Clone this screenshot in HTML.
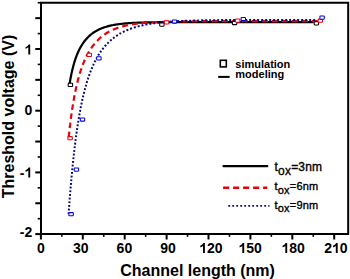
<!DOCTYPE html>
<html><head><meta charset="utf-8"><style>
html,body{margin:0;padding:0;background:#fff;}
svg{display:block;}
</style></head><body>
<svg width="350" height="279" viewBox="0 0 350 279">
<rect width="350" height="279" fill="#fff"/>
<g stroke="#000" stroke-width="2" fill="none" stroke-linecap="butt">
<path d="M41,2.7 H348.2 V234.1 H41 Z"/>
<path d="M35.3,234.10 H41"/>
<path d="M37.7,218.68 H41" stroke-width="1.6"/>
<path d="M35.3,203.25 H41"/>
<path d="M37.7,187.83 H41" stroke-width="1.6"/>
<path d="M35.3,172.40 H41"/>
<path d="M37.7,156.98 H41" stroke-width="1.6"/>
<path d="M35.3,141.55 H41"/>
<path d="M37.7,126.12 H41" stroke-width="1.6"/>
<path d="M35.3,110.70 H41"/>
<path d="M37.7,95.28 H41" stroke-width="1.6"/>
<path d="M35.3,79.85 H41"/>
<path d="M37.7,64.42 H41" stroke-width="1.6"/>
<path d="M35.3,49.00 H41"/>
<path d="M37.7,33.58 H41" stroke-width="1.6"/>
<path d="M35.3,18.15 H41"/>
<path d="M37.7,2.72 H41" stroke-width="1.6"/>
<path d="M40.90,234.1 V239.5"/>
<path d="M61.85,234.1 V236.8" stroke-width="1.6"/>
<path d="M82.80,234.1 V239.5"/>
<path d="M103.75,234.1 V236.8" stroke-width="1.6"/>
<path d="M124.70,234.1 V239.5"/>
<path d="M145.65,234.1 V236.8" stroke-width="1.6"/>
<path d="M166.60,234.1 V239.5"/>
<path d="M187.55,234.1 V236.8" stroke-width="1.6"/>
<path d="M208.50,234.1 V239.5"/>
<path d="M229.45,234.1 V236.8" stroke-width="1.6"/>
<path d="M250.41,234.1 V239.5"/>
<path d="M271.36,234.1 V236.8" stroke-width="1.6"/>
<path d="M292.31,234.1 V239.5"/>
<path d="M313.26,234.1 V236.8" stroke-width="1.6"/>
<path d="M334.21,234.1 V239.5"/>
</g>
<g font-family="Liberation Sans" font-weight="bold" font-size="14" fill="#000">
<path d="M831,0 L556,0 L556,1036 Q405,895 200,827 L155,812 L155,1061 Q270,1099 405,1204 Q540,1310 590,1466 L831,1466 Z" transform="translate(24.51,54.40) scale(0.006836,-0.006836)"/>
<text x="24.51" y="115.40">0</text>
<text x="19.85" y="177.50">-</text>
<path d="M831,0 L556,0 L556,1036 Q405,895 200,827 L155,812 L155,1061 Q270,1099 405,1204 Q540,1310 590,1466 L831,1466 Z" transform="translate(24.51,177.50) scale(0.006836,-0.006836)"/>
<text x="19.85" y="237.00">-2</text>
<text x="37.11" y="253.00">0</text>
<text x="73.01" y="253.00">30</text>
<text x="116.61" y="253.00">60</text>
<text x="160.21" y="253.00">90</text>
<path d="M831,0 L556,0 L556,1036 Q405,895 200,827 L155,812 L155,1061 Q270,1099 405,1204 Q540,1310 590,1466 L831,1466 Z" transform="translate(199.22,253.00) scale(0.006836,-0.006836)"/>
<text x="207.01" y="253.00">20</text>
<path d="M831,0 L556,0 L556,1036 Q405,895 200,827 L155,812 L155,1061 Q270,1099 405,1204 Q540,1310 590,1466 L831,1466 Z" transform="translate(238.52,253.00) scale(0.006836,-0.006836)"/>
<text x="246.31" y="253.00">50</text>
<path d="M831,0 L556,0 L556,1036 Q405,895 200,827 L155,812 L155,1061 Q270,1099 405,1204 Q540,1310 590,1466 L831,1466 Z" transform="translate(281.52,253.00) scale(0.006836,-0.006836)"/>
<text x="289.31" y="253.00">80</text>
<text x="324.22" y="253.00">2</text>
<path d="M831,0 L556,0 L556,1036 Q405,895 200,827 L155,812 L155,1061 Q270,1099 405,1204 Q540,1310 590,1466 L831,1466 Z" transform="translate(332.01,253.00) scale(0.006836,-0.006836)"/>
<text x="339.79" y="253.00">0</text>
</g>
<text x="197.6" y="275.6" text-anchor="middle" font-family="Liberation Sans" font-weight="bold" font-size="16" letter-spacing="0">Channel length (nm)</text>
<text transform="translate(14,116.5) rotate(-90)" text-anchor="middle" font-family="Liberation Sans" font-weight="bold" font-size="16">Threshold voltage (V)</text>
<path d="M69.39,84.93 L69.55,83.93 L69.72,82.94 L69.89,81.95 L70.06,80.96 L70.24,79.97 L70.42,78.98 L70.61,77.99 L70.80,77.00 L71.00,76.01 L71.20,75.02 L71.40,74.04 L71.62,73.05 L71.83,72.07 L72.06,71.09 L72.28,70.11 L72.52,69.13 L72.76,68.15 L73.01,67.18 L73.26,66.20 L73.53,65.23 L73.80,64.26 L74.08,63.29 L74.36,62.33 L74.66,61.36 L74.96,60.40 L75.28,59.45 L75.60,58.49 L75.94,57.55 L76.28,56.60 L76.64,55.66 L77.00,54.72 L77.38,53.79 L77.78,52.86 L78.18,51.94 L78.60,51.02 L79.03,50.11 L79.48,49.21 L79.94,48.32 L80.42,47.43 L80.91,46.55 L81.42,45.69 L81.95,44.83 L82.50,43.98 L83.06,43.14 L83.64,42.32 L84.23,41.51 L84.85,40.71 L85.48,39.93 L86.14,39.17 L86.81,38.42 L87.50,37.68 L88.21,36.97 L88.93,36.27 L89.68,35.59 L90.44,34.93 L91.22,34.30 L92.02,33.68 L92.83,33.08 L93.65,32.51 L94.50,31.96 L95.35,31.43 L96.22,30.92 L97.10,30.43 L97.99,29.97 L98.90,29.52 L99.81,29.10 L100.73,28.70 L101.67,28.31 L102.60,27.95 L103.55,27.60 L104.50,27.28 L105.46,26.97 L106.42,26.68 L107.39,26.40 L108.36,26.14 L109.34,25.89 L110.32,25.66 L111.30,25.44 L112.29,25.24 L113.28,25.04 L114.27,24.86 L115.26,24.69 L116.25,24.52 L117.25,24.37 L118.25,24.23 L119.24,24.10 L120.24,23.97 L121.24,23.85 L122.24,23.74 L123.24,23.63 L124.25,23.54 L125.25,23.44 L126.25,23.36 L127.26,23.27 L128.26,23.20 L129.26,23.13 L130.27,23.06 L131.27,23.00 L132.28,22.94 L133.28,22.88 L134.29,22.83 L135.29,22.78 L136.30,22.73 L137.31,22.69 L138.31,22.65 L139.32,22.61 L140.32,22.57 L141.33,22.54 L142.34,22.51 L143.34,22.48 L144.35,22.45 L145.36,22.43 L146.36,22.40 L147.37,22.38 L148.38,22.36 L149.38,22.34 L150.39,22.32 L151.40,22.30 L152.40,22.28 L153.41,22.27 L154.42,22.25 L155.42,22.24 L156.43,22.23 L157.44,22.21 L158.44,22.20 L159.45,22.19 L160.46,22.18 L161.46,22.17 L162.47,22.16 L163.48,22.16 L164.48,22.15 L165.49,22.14 L166.50,22.13 L167.51,22.13 L168.51,22.12 L169.52,22.11 L170.53,22.11 L171.53,22.10 L172.54,22.10 L173.55,22.10 L174.55,22.09 L175.56,22.09 L176.57,22.08 L177.57,22.08 L178.58,22.08 L179.59,22.07 L180.59,22.07 L181.60,22.07 L182.61,22.07 L183.61,22.06 L184.62,22.06 L185.63,22.06 L186.64,22.06 L187.64,22.06 L188.65,22.05 L189.66,22.05 L190.66,22.05 L191.67,22.05 L192.68,22.05 L193.68,22.05 L194.69,22.05 L195.70,22.05 L196.70,22.04 L197.71,22.04 L198.72,22.04 L199.72,22.04 L200.73,22.04 L201.74,22.04 L202.75,22.04 L203.75,22.04 L204.76,22.04 L205.77,22.04 L206.77,22.04 L207.78,22.04 L208.79,22.04 L209.79,22.04 L210.80,22.03 L211.81,22.03 L212.81,22.03 L213.82,22.03 L214.83,22.03 L215.83,22.03 L216.84,22.03 L217.85,22.03 L218.85,22.03 L219.86,22.03 L220.87,22.03 L221.88,22.03 L222.88,22.03 L223.89,22.03 L224.90,22.03 L225.90,22.03 L226.91,22.03 L227.92,22.03 L228.92,22.03 L229.93,22.03 L230.94,22.03 L231.94,22.03 L232.95,22.03 L233.96,22.03 L234.96,22.03 L235.97,22.03 L236.98,22.03 L237.99,22.03 L238.99,22.03 L240.00,22.03 L241.01,22.03 L242.01,22.03 L243.02,22.03 L244.03,22.03 L245.03,22.03 L246.04,22.03 L247.05,22.03 L248.05,22.03 L249.06,22.03 L250.07,22.03 L251.07,22.03 L252.08,22.03 L253.09,22.03 L254.10,22.03 L255.10,22.03 L256.11,22.03 L257.12,22.03 L258.12,22.03 L259.13,22.03 L260.14,22.03 L261.14,22.03 L262.15,22.03 L263.16,22.03 L264.16,22.03 L265.17,22.03 L266.18,22.03 L267.18,22.03 L268.19,22.03 L269.20,22.03 L270.20,22.03 L271.21,22.03 L272.22,22.03 L273.23,22.03 L274.23,22.03 L275.24,22.03 L276.25,22.03 L277.25,22.03 L278.26,22.03 L279.27,22.03 L280.27,22.03 L281.28,22.03 L282.29,22.03 L283.29,22.03 L284.30,22.03 L285.31,22.03 L286.31,22.03 L287.32,22.03 L288.33,22.03 L289.34,22.03 L290.34,22.03 L291.35,22.03 L292.36,22.03 L293.36,22.03 L294.37,22.03 L295.38,22.03 L296.38,22.03 L297.39,22.03 L298.40,22.03 L299.40,22.03 L300.41,22.03 L301.42,22.03 L302.42,22.03 L303.43,22.03 L304.44,22.03 L305.45,22.03 L306.45,22.03 L307.46,22.03 L308.47,22.03 L309.47,22.03 L310.48,22.03 L311.49,22.03 L312.49,22.03 L313.50,22.03" fill="none" stroke="#000" stroke-width="2.2" stroke-linejoin="round"/>
<path d="M68.72,137.24 L68.76,136.78 L68.81,136.32 L68.86,135.86 L68.91,135.41 L68.96,134.95 L69.00,134.49 L69.05,134.03 L69.10,133.58 L69.15,133.12 L69.20,132.66 L69.25,132.20 L69.30,131.74 M69.71,128.08 L69.77,127.63 L69.82,127.17 L69.87,126.71 L69.93,126.25 L69.98,125.80 L70.04,125.34 L70.09,124.88 L70.15,124.43 L70.20,123.97 L70.26,123.51 L70.31,123.05 L70.37,122.60 M70.84,118.94 L70.90,118.49 L70.96,118.03 L71.02,117.57 L71.08,117.12 L71.14,116.66 L71.20,116.20 L71.26,115.75 L71.33,115.29 L71.39,114.83 L71.45,114.38 L71.52,113.92 L71.58,113.47 M72.11,109.82 L72.18,109.36 L72.25,108.91 L72.32,108.45 L72.39,108.00 L72.46,107.54 L72.53,107.08 L72.60,106.63 L72.67,106.17 L72.74,105.72 L72.82,105.26 L72.89,104.81 L72.96,104.35 M73.58,100.72 L73.65,100.26 L73.73,99.81 L73.81,99.35 L73.90,98.90 L73.98,98.45 L74.06,97.99 L74.14,97.54 L74.23,97.09 L74.31,96.63 L74.40,96.18 L74.48,95.73 L74.57,95.27 M75.28,91.65 L75.38,91.20 L75.47,90.75 L75.57,90.30 L75.66,89.85 L75.76,89.39 L75.85,88.94 L75.95,88.49 L76.05,88.04 L76.15,87.59 L76.25,87.14 L76.35,86.69 L76.45,86.24 M77.31,82.64 L77.42,82.19 L77.53,81.75 L77.64,81.30 L77.76,80.85 L77.87,80.40 L77.99,79.96 L78.11,79.51 L78.22,79.06 L78.34,78.61 L78.46,78.17 L78.59,77.72 L78.71,77.28 M79.74,73.72 L79.88,73.28 L80.01,72.84 L80.15,72.39 L80.29,71.95 L80.43,71.51 L80.57,71.07 L80.72,70.63 L80.86,70.19 L81.01,69.75 L81.16,69.31 L81.30,68.87 L81.46,68.43 M82.73,64.94 L82.89,64.51 L83.06,64.08 L83.23,63.64 L83.41,63.21 L83.58,62.78 L83.76,62.35 L83.93,61.92 L84.11,61.49 L84.30,61.06 L84.48,60.64 L84.67,60.21 L84.86,59.78 M86.45,56.41 L86.66,55.99 L86.87,55.57 L87.08,55.16 L87.30,54.74 L87.52,54.33 L87.74,53.92 L87.97,53.51 L88.19,53.10 L88.43,52.69 L88.66,52.28 L88.89,51.88 L89.13,51.47 M91.14,48.29 L91.41,47.90 L91.68,47.51 L91.95,47.13 L92.22,46.74 L92.50,46.36 L92.78,45.98 L93.07,45.60 L93.35,45.22 L93.64,44.85 L93.94,44.48 L94.23,44.11 L94.54,43.74 M97.06,40.89 L97.40,40.55 L97.73,40.20 L98.07,39.87 L98.41,39.53 L98.76,39.20 L99.11,38.87 L99.46,38.54 L99.82,38.22 L100.18,37.90 L100.54,37.58 L100.91,37.27 L101.28,36.96 M104.35,34.61 L104.75,34.34 L105.15,34.06 L105.56,33.79 L105.97,33.53 L106.38,33.27 L106.79,33.01 L107.21,32.75 L107.63,32.50 L108.05,32.26 L108.48,32.02 L108.91,31.78 L109.34,31.54 M112.86,29.81 L113.31,29.61 L113.77,29.42 L114.22,29.22 L114.68,29.04 L115.14,28.85 L115.59,28.67 L116.06,28.49 L116.52,28.32 L116.98,28.15 L117.45,27.98 L117.92,27.82 L118.39,27.66 M122.18,26.50 L122.66,26.37 L123.14,26.24 L123.62,26.12 L124.11,26.00 L124.59,25.88 L125.07,25.76 L125.56,25.65 L126.04,25.54 L126.53,25.43 L127.01,25.32 L127.50,25.22 L127.99,25.12 M131.91,24.39 L132.40,24.31 L132.89,24.23 L133.39,24.15 L133.88,24.08 L134.37,24.00 L134.87,23.93 L135.36,23.86 L135.86,23.79 L136.35,23.72 L136.85,23.66 L137.34,23.60 L137.84,23.53 M141.81,23.09 L142.30,23.04 L142.80,22.99 L143.30,22.94 L143.80,22.90 L144.29,22.85 L144.79,22.81 L145.29,22.77 L145.79,22.73 L146.29,22.69 L146.78,22.65 L147.28,22.61 L147.78,22.57 M151.77,22.30 L152.27,22.27 L152.77,22.24 L153.27,22.22 L153.77,22.19 L154.27,22.16 L154.76,22.13 L155.26,22.11 L155.76,22.08 L156.26,22.06 L156.76,22.04 L157.26,22.01 L157.76,21.99 M161.76,21.83 L162.26,21.81 L162.76,21.79 L163.26,21.78 L163.76,21.76 L164.25,21.74 L164.75,21.73 L165.25,21.71 L165.75,21.70 L166.25,21.68 L166.75,21.67 L167.25,21.66 L167.75,21.64 M171.75,21.55 L172.25,21.53 L172.75,21.52 L173.25,21.51 L173.75,21.50 L174.25,21.49 L174.75,21.48 L175.25,21.48 L175.75,21.47 L176.25,21.46 L176.75,21.45 L177.25,21.44 L177.75,21.43 M181.75,21.37 L182.25,21.37 L182.75,21.36 L183.25,21.36 L183.75,21.35 L184.25,21.34 L184.75,21.34 L185.25,21.33 L185.75,21.33 L186.25,21.32 L186.75,21.32 L187.25,21.31 L187.75,21.31 M191.75,21.27 L192.25,21.27 L192.75,21.27 L193.25,21.26 L193.75,21.26 L194.25,21.25 L194.75,21.25 L195.25,21.25 L195.75,21.24 L196.25,21.24 L196.75,21.24 L197.25,21.24 L197.75,21.23 M201.75,21.21 L202.25,21.21 L202.75,21.21 L203.25,21.20 L203.75,21.20 L204.25,21.20 L204.75,21.20 L205.25,21.20 L205.75,21.19 L206.25,21.19 L206.75,21.19 L207.25,21.19 L207.75,21.19 M211.75,21.18 L212.25,21.17 L212.75,21.17 L213.25,21.17 L213.75,21.17 L214.25,21.17 L214.75,21.17 L215.25,21.17 L215.75,21.16 L216.25,21.16 L216.75,21.16 L217.25,21.16 L217.75,21.16 M221.75,21.15 L222.25,21.15 L222.75,21.15 L223.25,21.15 L223.75,21.15 L224.25,21.15 L224.75,21.15 L225.25,21.15 L225.75,21.15 L226.25,21.15 L226.75,21.15 L227.25,21.15 L227.75,21.14 M231.75,21.14 L232.25,21.14 L232.75,21.14 L233.25,21.14 L233.75,21.14 L234.25,21.14 L234.75,21.14 L235.25,21.14 L235.75,21.14 L236.25,21.14 L236.75,21.14 L237.25,21.14 L237.75,21.13 M241.75,21.13 L242.25,21.13 L242.75,21.13 L243.25,21.13 L243.75,21.13 L244.25,21.13 L244.75,21.13 L245.25,21.13 L245.75,21.13 L246.25,21.13 L246.75,21.13 L247.25,21.13 L247.75,21.13 M251.75,21.13 L252.25,21.13 L252.75,21.13 L253.25,21.13 L253.75,21.13 L254.25,21.13 L254.75,21.13 L255.25,21.13 L255.75,21.13 L256.25,21.13 L256.75,21.13 L257.25,21.13 L257.75,21.13 M261.75,21.12 L262.25,21.12 L262.75,21.12 L263.25,21.12 L263.75,21.12 L264.25,21.12 L264.75,21.12 L265.25,21.12 L265.75,21.12 L266.25,21.12 L266.75,21.12 L267.25,21.12 L267.75,21.12 M271.75,21.12 L272.25,21.12 L272.75,21.12 L273.25,21.12 L273.75,21.12 L274.25,21.12 L274.75,21.12 L275.25,21.12 L275.75,21.12 L276.25,21.12 L276.75,21.12 L277.25,21.12 L277.75,21.12 M281.75,21.12 L282.25,21.12 L282.75,21.12 L283.25,21.12 L283.75,21.12 L284.25,21.12 L284.75,21.12 L285.25,21.12 L285.75,21.12 L286.25,21.12 L286.75,21.12 L287.25,21.12 L287.75,21.12 M291.75,21.12 L292.25,21.12 L292.75,21.12 L293.25,21.12 L293.75,21.12 L294.25,21.12 L294.75,21.12 L295.25,21.12 L295.75,21.12 L296.25,21.12 L296.75,21.12 L297.25,21.12 L297.75,21.12 M301.75,21.12 L302.25,21.12 L302.75,21.12 L303.25,21.12 L303.75,21.12 L304.25,21.12 L304.75,21.12 L305.25,21.12 L305.75,21.12 L306.25,21.12 L306.75,21.12 L307.25,21.12 L307.75,21.12 M311.75,21.12 L312.25,21.12 L312.75,21.12 L313.25,21.12 L313.75,21.12 L314.25,21.12 L314.75,21.12 L315.25,21.12 L315.75,21.12 L316.25,21.12 L316.75,21.12 L317.25,21.12 L317.75,21.12" fill="none" stroke="#e8000b" stroke-width="2.2" stroke-linecap="butt"/>
<path d="M68.59,214.19 L68.62,213.73 L68.66,213.27 L68.69,212.81 L68.72,212.35 M68.85,210.51 L68.89,210.05 L68.92,209.60 L68.95,209.14 L68.99,208.68 M69.12,206.84 L69.15,206.38 L69.19,205.92 L69.22,205.47 L69.26,205.01 M69.39,203.17 L69.43,202.71 L69.46,202.25 L69.50,201.79 L69.53,201.34 M69.67,199.50 L69.71,199.04 L69.74,198.58 L69.78,198.12 L69.82,197.66 M69.96,195.83 L70.00,195.37 L70.03,194.91 L70.07,194.45 L70.11,193.99 M70.26,192.16 L70.29,191.70 L70.33,191.24 L70.37,190.78 L70.41,190.32 M70.56,188.49 L70.60,188.03 L70.64,187.57 L70.68,187.11 L70.71,186.66 M70.87,184.82 L70.91,184.36 L70.95,183.90 L70.99,183.45 L71.03,182.99 M71.19,181.15 L71.23,180.69 L71.27,180.24 L71.31,179.78 L71.36,179.32 M71.52,177.49 L71.56,177.03 L71.61,176.57 L71.65,176.11 L71.69,175.65 M71.86,173.82 L71.91,173.36 L71.95,172.90 L71.99,172.44 L72.04,171.99 M72.21,170.15 L72.26,169.69 L72.30,169.24 L72.35,168.78 L72.39,168.32 M72.57,166.49 L72.62,166.03 L72.67,165.57 L72.71,165.11 L72.76,164.66 M72.95,162.82 L73.00,162.37 L73.04,161.91 L73.09,161.45 L73.14,160.99 M73.33,159.16 L73.38,158.70 L73.43,158.25 L73.48,157.79 L73.53,157.33 M73.73,155.50 L73.78,155.04 L73.83,154.58 L73.89,154.13 L73.94,153.67 M74.15,151.84 L74.20,151.38 L74.25,150.92 L74.30,150.47 L74.36,150.01 M74.57,148.18 L74.63,147.72 L74.68,147.27 L74.74,146.81 L74.79,146.35 M75.02,144.52 L75.07,144.07 L75.13,143.61 L75.19,143.15 L75.24,142.70 M75.48,140.87 L75.54,140.41 L75.60,139.95 L75.65,139.50 L75.71,139.04 M75.96,137.21 L76.02,136.76 L76.08,136.30 L76.14,135.84 L76.20,135.39 M76.45,133.56 L76.52,133.11 L76.58,132.65 L76.65,132.19 L76.71,131.74 M76.97,129.91 L77.04,129.46 L77.11,129.00 L77.17,128.55 L77.24,128.09 M77.51,126.27 L77.58,125.81 L77.65,125.36 L77.72,124.90 L77.79,124.45 M78.08,122.62 L78.15,122.17 L78.23,121.71 L78.30,121.26 L78.37,120.80 M78.67,118.99 L78.75,118.53 L78.82,118.08 L78.90,117.62 L78.98,117.17 M79.29,115.35 L79.37,114.90 L79.45,114.44 L79.53,113.99 L79.61,113.53 M79.94,111.72 L80.03,111.27 L80.11,110.81 L80.20,110.36 L80.28,109.91 M80.63,108.09 L80.72,107.64 L80.80,107.19 L80.89,106.73 L80.98,106.28 M81.35,104.47 L81.44,104.02 L81.53,103.57 L81.63,103.12 L81.72,102.67 M82.11,100.86 L82.21,100.41 L82.31,99.96 L82.40,99.51 L82.50,99.06 M82.91,97.26 L83.02,96.81 L83.12,96.36 L83.23,95.91 L83.33,95.46 M83.76,93.66 L83.87,93.21 L83.98,92.76 L84.10,92.31 L84.21,91.87 M84.67,90.08 L84.79,89.63 L84.90,89.18 L85.02,88.73 L85.14,88.29 M85.63,86.50 L85.75,86.06 L85.88,85.61 L86.01,85.17 L86.13,84.72 M86.66,82.95 L86.79,82.50 L86.92,82.06 L87.06,81.62 L87.20,81.17 M87.75,79.41 L87.90,78.97 L88.04,78.53 L88.18,78.09 L88.33,77.65 M88.93,75.89 L89.08,75.45 L89.24,75.01 L89.39,74.58 L89.55,74.14 M90.19,72.40 L90.36,71.96 L90.52,71.53 L90.69,71.10 L90.86,70.66 M91.55,68.94 L91.73,68.51 L91.91,68.08 L92.09,67.65 L92.27,67.22 M93.02,65.51 L93.21,65.09 L93.41,64.67 L93.60,64.24 L93.80,63.82 M94.61,62.14 L94.82,61.72 L95.03,61.30 L95.24,60.88 L95.45,60.47 M96.33,58.82 L96.55,58.40 L96.78,57.99 L97.01,57.59 L97.24,57.18 M98.19,55.56 L98.44,55.16 L98.68,54.76 L98.93,54.36 L99.19,53.96 M100.22,52.39 L100.48,52.00 L100.75,51.61 L101.02,51.22 L101.29,50.84 M102.41,49.31 L102.70,48.93 L102.99,48.56 L103.28,48.19 L103.58,47.81 M104.79,46.35 L105.10,45.99 L105.41,45.63 L105.73,45.28 L106.05,44.92 M107.35,43.53 L107.69,43.19 L108.02,42.85 L108.37,42.51 L108.71,42.17 M110.11,40.86 L110.47,40.54 L110.83,40.22 L111.19,39.91 L111.56,39.59 M113.05,38.37 L113.44,38.07 L113.82,37.78 L114.21,37.49 L114.60,37.20 M116.18,36.08 L116.58,35.80 L116.99,35.53 L117.39,35.27 L117.80,35.00 M119.47,33.98 L119.89,33.74 L120.31,33.49 L120.74,33.25 L121.17,33.01 M122.90,32.10 L123.34,31.88 L123.78,31.66 L124.22,31.44 L124.67,31.23 M126.46,30.42 L126.91,30.22 L127.37,30.03 L127.82,29.84 L128.28,29.65 M130.12,28.94 L130.59,28.77 L131.05,28.60 L131.52,28.43 L131.99,28.27 M133.87,27.64 L134.34,27.49 L134.81,27.35 L135.29,27.20 L135.76,27.06 M137.67,26.52 L138.15,26.39 L138.64,26.26 L139.12,26.14 L139.60,26.02 M141.53,25.55 L142.02,25.44 L142.50,25.33 L142.99,25.22 L143.48,25.11 M145.43,24.71 L145.92,24.62 L146.41,24.52 L146.90,24.43 L147.39,24.34 M149.35,24.00 L149.84,23.91 L150.34,23.83 L150.83,23.76 L151.32,23.68 M153.30,23.38 L153.79,23.31 L154.28,23.24 L154.78,23.18 L155.27,23.11 M157.25,22.86 L157.75,22.80 L158.25,22.74 L158.74,22.68 L159.24,22.63 M161.23,22.41 L161.72,22.36 L162.22,22.31 L162.72,22.26 L163.21,22.22 M165.20,22.03 L165.70,21.99 L166.20,21.95 L166.70,21.91 L167.20,21.87 M169.19,21.71 L169.69,21.67 L170.19,21.64 L170.68,21.60 L171.18,21.57 M173.18,21.44 L173.68,21.40 L174.17,21.37 L174.67,21.34 L175.17,21.31 M177.17,21.20 L177.67,21.18 L178.17,21.15 L178.67,21.12 L179.17,21.10 M181.16,21.00 L181.66,20.98 L182.16,20.96 L182.66,20.94 L183.16,20.91 M185.16,20.83 L185.66,20.81 L186.16,20.80 L186.66,20.78 L187.16,20.76 M189.16,20.69 L189.66,20.67 L190.16,20.66 L190.65,20.64 L191.15,20.63 M193.15,20.57 L193.65,20.55 L194.15,20.54 L194.65,20.53 L195.15,20.51 M197.15,20.46 L197.65,20.45 L198.15,20.44 L198.65,20.43 L199.15,20.42 M201.15,20.38 L201.65,20.36 L202.15,20.36 L202.65,20.35 L203.15,20.34 M205.15,20.30 L205.65,20.29 L206.15,20.28 L206.65,20.27 L207.15,20.27 M209.15,20.24 L209.65,20.23 L210.15,20.22 L210.65,20.21 L211.15,20.21 M213.15,20.18 L213.65,20.18 L214.15,20.17 L214.65,20.16 L215.15,20.16 M217.15,20.14 L217.65,20.13 L218.15,20.13 L218.65,20.12 L219.15,20.12 M221.15,20.10 L221.65,20.09 L222.15,20.09 L222.65,20.08 L223.15,20.08 M225.15,20.06 L225.65,20.06 L226.15,20.06 L226.65,20.05 L227.15,20.05 M229.15,20.04 L229.65,20.03 L230.15,20.03 L230.65,20.03 L231.15,20.02 M233.15,20.01 L233.65,20.01 L234.15,20.01 L234.65,20.00 L235.15,20.00 M237.15,19.99 L237.65,19.99 L238.15,19.99 L238.65,19.98 L239.15,19.98 M241.15,19.97 L241.65,19.97 L242.15,19.97 L242.65,19.97 L243.15,19.97 M245.15,19.96 L245.65,19.96 L246.15,19.96 L246.65,19.95 L247.15,19.95 M249.15,19.95 L249.65,19.94 L250.15,19.94 L250.65,19.94 L251.15,19.94 M253.15,19.94 L253.65,19.93 L254.15,19.93 L254.65,19.93 L255.15,19.93 M257.15,19.93 L257.65,19.93 L258.15,19.92 L258.65,19.92 L259.15,19.92 M261.15,19.92 L261.65,19.92 L262.15,19.92 L262.65,19.92 L263.15,19.92 M265.15,19.91 L265.65,19.91 L266.15,19.91 L266.65,19.91 L267.15,19.91 M269.15,19.91 L269.65,19.91 L270.15,19.91 L270.65,19.90 L271.15,19.90 M273.15,19.90 L273.65,19.90 L274.15,19.90 L274.65,19.90 L275.15,19.90 M277.15,19.90 L277.65,19.90 L278.15,19.90 L278.65,19.90 L279.15,19.90 M281.15,19.89 L281.65,19.89 L282.15,19.89 L282.65,19.89 L283.15,19.89 M285.15,19.89 L285.65,19.89 L286.15,19.89 L286.65,19.89 L287.15,19.89 M289.15,19.89 L289.65,19.89 L290.15,19.89 L290.65,19.89 L291.15,19.89 M293.15,19.89 L293.65,19.89 L294.15,19.89 L294.65,19.89 L295.15,19.89 M297.15,19.89 L297.65,19.88 L298.15,19.88 L298.65,19.88 L299.15,19.88 M301.15,19.88 L301.65,19.88 L302.15,19.88 L302.65,19.88 L303.15,19.88 M305.15,19.88 L305.65,19.88 L306.15,19.88 L306.65,19.88 L307.15,19.88 M309.15,19.88 L309.65,19.88 L310.15,19.88 L310.65,19.88 L311.15,19.88 M313.15,19.88 L313.65,19.88 L314.15,19.88 L314.65,19.88 L315.15,19.88" fill="none" stroke="#0a0a6e" stroke-width="2" stroke-linecap="butt"/>
<rect x="68.20" y="83.30" width="4.4" height="3.2" rx="0.6" fill="#fff" stroke="#000" stroke-width="1.05"/>
<rect x="159.70" y="23.00" width="4.4" height="3.2" rx="0.6" fill="#fff" stroke="#000" stroke-width="1.05"/>
<rect x="232.40" y="21.40" width="4.4" height="3.2" rx="0.6" fill="#fff" stroke="#000" stroke-width="1.05"/>
<rect x="314.20" y="21.70" width="4.4" height="3.2" rx="0.6" fill="#fff" stroke="#000" stroke-width="1.05"/>
<rect x="67.90" y="136.60" width="4.4" height="3.2" rx="0.6" fill="#fff" stroke="#e8000b" stroke-width="1.05"/>
<rect x="87.10" y="53.30" width="4.4" height="3.2" rx="0.6" fill="#fff" stroke="#e8000b" stroke-width="1.05"/>
<rect x="164.40" y="20.70" width="4.4" height="3.2" rx="0.6" fill="#fff" stroke="#e8000b" stroke-width="1.05"/>
<rect x="235.50" y="19.00" width="4.4" height="3.2" rx="0.6" fill="#fff" stroke="#e8000b" stroke-width="1.05"/>
<rect x="318.10" y="19.10" width="4.4" height="3.2" rx="0.6" fill="#fff" stroke="#e8000b" stroke-width="1.05"/>
<rect x="68.90" y="212.60" width="4.4" height="3.2" rx="0.6" fill="#fff" stroke="#0000e0" stroke-width="1.05"/>
<rect x="74.20" y="168.00" width="4.4" height="3.2" rx="0.6" fill="#fff" stroke="#0000e0" stroke-width="1.05"/>
<rect x="80.30" y="117.90" width="4.4" height="3.2" rx="0.6" fill="#fff" stroke="#0000e0" stroke-width="1.05"/>
<rect x="96.70" y="56.80" width="4.4" height="3.2" rx="0.6" fill="#fff" stroke="#0000e0" stroke-width="1.05"/>
<rect x="172.30" y="19.90" width="4.4" height="3.2" rx="0.6" fill="#fff" stroke="#0000e0" stroke-width="1.05"/>
<rect x="241.10" y="17.40" width="4.4" height="3.2" rx="0.6" fill="#fff" stroke="#0000e0" stroke-width="1.05"/>
<rect x="319.90" y="16.00" width="4.4" height="3.2" rx="0.6" fill="#fff" stroke="#0000e0" stroke-width="1.05"/>
<rect x="220.3" y="60.3" width="6" height="6.6" fill="#fff" stroke="#000" stroke-width="1.6"/>
<path d="M218.2,76.9 H229.6" stroke="#000" stroke-width="2"/>
<g font-family="Liberation Sans" font-weight="bold" font-size="11" fill="#000"><text x="235.3" y="67.6">simulation</text><text x="235.3" y="78">modeling</text></g>
<path d="M223.6,166.1 H267.2" stroke="#000" stroke-width="2.4" stroke-linecap="round"/>
<path d="M223.1,187.7 H267.3" stroke="#e8000b" stroke-width="2.4" stroke-dasharray="6 4"/>
<path d="M228.3,205.8 H269.5" stroke="#0a0a6e" stroke-width="1.8" stroke-dasharray="1.8 2.2"/>
<g font-family="Liberation Sans" font-size="11" fill="#000" stroke="#000" stroke-width="0.35">
<text x="274.5" y="171" font-size="12" letter-spacing="0.2">t<tspan dy="3.8">ox</tspan><tspan dy="-3.8">=3nm</tspan></text>
<text x="274.5" y="190" font-size="11" letter-spacing="0.2">t<tspan dy="3.8">ox</tspan><tspan dy="-3.8">=6nm</tspan></text>
<text x="274.5" y="208.6" font-size="11" letter-spacing="0.2">t<tspan dy="3.8">ox</tspan><tspan dy="-3.8">=9nm</tspan></text>
</g>
</svg>
</body></html>
